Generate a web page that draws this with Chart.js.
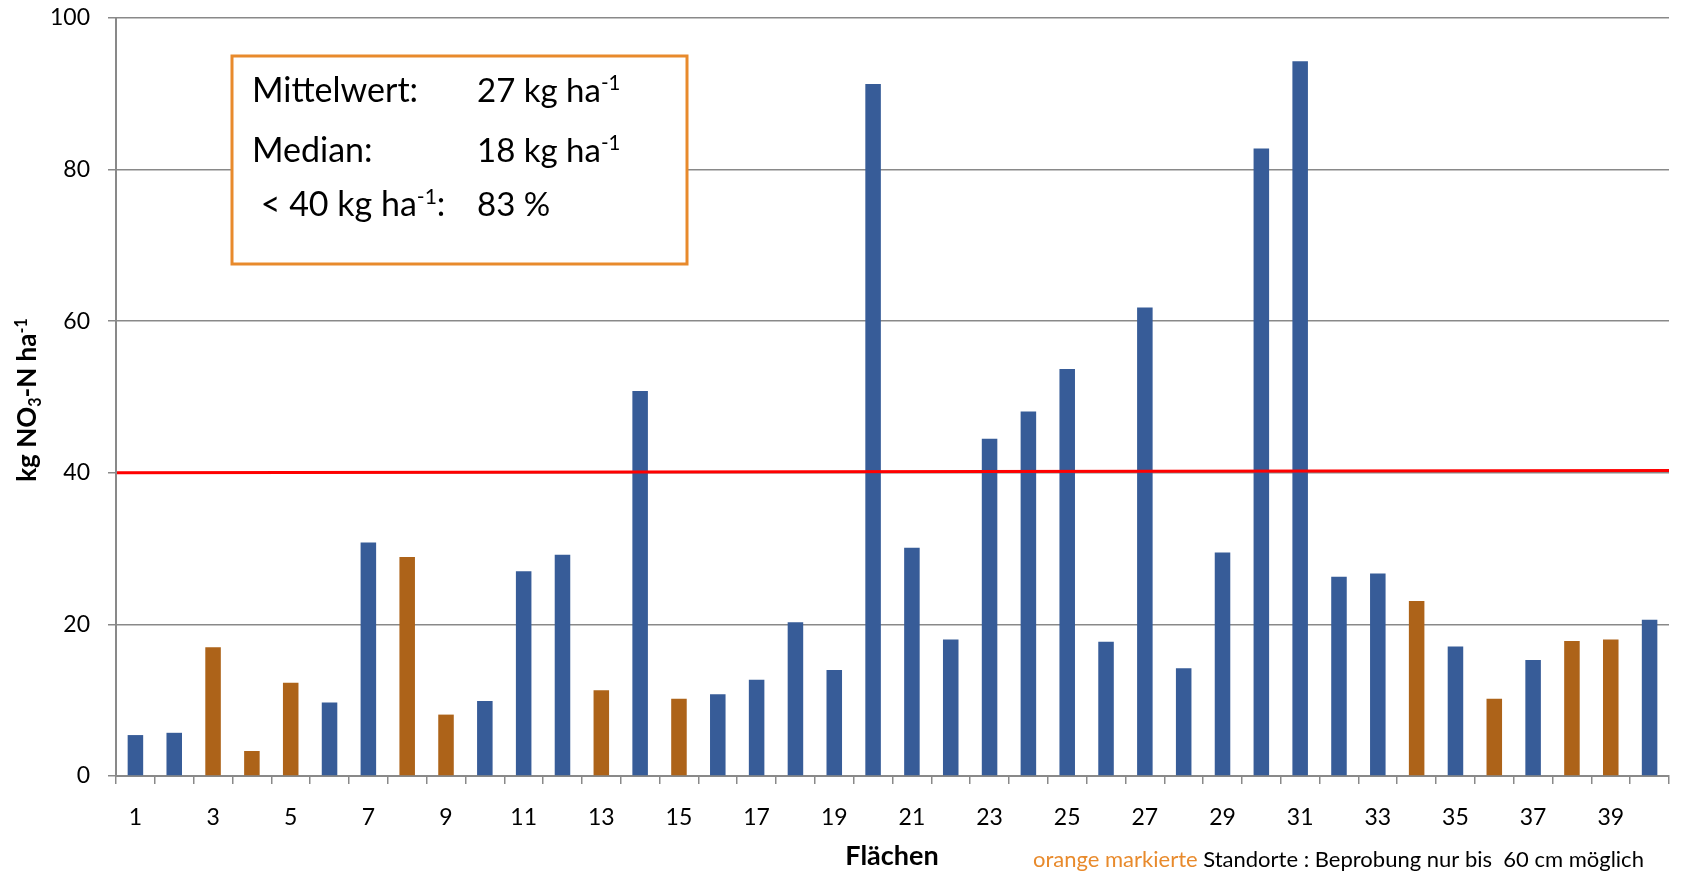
<!DOCTYPE html>
<html>
<head>
<meta charset="utf-8">
<script src="https://cdn.jsdelivr.net/npm/chart.js@4.4.1/dist/chart.umd.min.js"></script>
<style>
  html, body { margin: 0; padding: 0; background: #ffffff; }
  #wrap { width: 1685px; height: 873px; }
</style>
</head>
<body>
<div id="wrap"><canvas id="c" width="1685" height="873"></canvas></div>
<script>
// ---- data ----
const sites = ['1','2','3','4','5','6','7','8','9','10','11','12','13','14','15','16','17','18','19','20',
               '21','22','23','24','25','26','27','28','29','30','31','32','33','34','35','36','37','38','39','40'];
const nitrate = [5.4, 5.7, 17.0, 3.3, 12.3, 9.7, 30.8, 28.9, 8.1, 9.9,
                 27.0, 29.2, 11.3, 50.8, 10.2, 10.8, 12.7, 20.3, 14.0, 91.3,
                 30.1, 18.0, 44.5, 48.1, 53.7, 17.7, 61.8, 14.2, 29.5, 82.8,
                 94.3, 26.3, 26.7, 23.1, 17.1, 10.2, 15.3, 17.8, 18.0, 20.6];
const orangeSites = ['3','4','5','8','9','13','15','34','36','38','39'];
const thresholdStart = 40.0;   // value at left edge of plot
const thresholdEnd = 40.3;     // value at right edge of plot
const yTicks = [0, 20, 40, 60, 80, 100];
const statLabels = [
  [{t:'Mittelwert:'}],
  [{t:'Median:'}],
  [{t:' < 40 kg ha'}, {t:'-1', sup:true}, {t:':'}]
];
const statValues = [
  [{t:'27 kg ha'}, {t:'-1', sup:true}],
  [{t:'18 kg ha'}, {t:'-1', sup:true}],
  [{t:'83 %'}]
];
const yTitle = [{t:'kg NO'}, {t:'3', sub:true}, {t:'-N ha'}, {t:'-1', sup:true}];
const xTitle = 'Flächen';
const footnoteOrange = 'orange markierte ';
const footnoteRest = 'Standorte : Beprobung nur bis  60 cm möglich';

// ---- styles ----
const BLUE = '#375C98';
const ORANGE_BAR = '#AD6319';
const ORANGE_LINE = '#E88A2C';
const GRID = '#898989';
const FONT = 'Lato';

const barColors = sites.map(s => orangeSites.includes(s) ? ORANGE_BAR : BLUE);

function richWidth(ctx, parts, size, weight) {
  let w = 0;
  for (const p of parts) {
    const s = (p.sup || p.sub) ? size * 0.62 : size;
    ctx.font = weight + ' ' + s + 'px ' + FONT;
    w += ctx.measureText(p.t).width;
  }
  return w;
}
function drawRich(ctx, x, y, parts, size, weight, color) {
  ctx.fillStyle = color;
  ctx.textBaseline = 'alphabetic';
  ctx.textAlign = 'left';
  for (const p of parts) {
    const s = (p.sup || p.sub) ? size * 0.62 : size;
    const dy = p.sup ? -size * 0.36 : (p.sub ? size * 0.2 : 0);
    ctx.font = weight + ' ' + s + 'px ' + FONT;
    ctx.fillText(p.t, x, y + dy);
    x += ctx.measureText(p.t).width;
  }
  return x;
}

const thresholdLine = {
  id: 'thresholdLine',
  afterDatasetsDraw(chart) {
    const ctx = chart.ctx, a = chart.chartArea, y = chart.scales.y;
    ctx.save();
    ctx.strokeStyle = '#FF0000';
    ctx.lineWidth = 3;
    ctx.beginPath();
    ctx.moveTo(a.left + 1, y.getPixelForValue(thresholdStart));
    ctx.lineTo(a.right, y.getPixelForValue(thresholdEnd));
    ctx.stroke();
    ctx.restore();
  }
};

const overlay = {
  id: 'overlay',
  afterDraw(chart) {
    const ctx = chart.ctx;
    ctx.save();
    // statistics box
    ctx.fillStyle = '#ffffff';
    ctx.fillRect(232, 56, 455, 208);
    ctx.strokeStyle = ORANGE_LINE;
    ctx.lineWidth = 3;
    ctx.strokeRect(232, 56, 455, 208);
    const baselines = [102, 162, 216];
    for (let i = 0; i < statLabels.length; i++) {
      drawRich(ctx, 252, baselines[i], statLabels[i], 34, 'normal', '#000000');
      drawRich(ctx, 477, baselines[i], statValues[i], 33, 'normal', '#000000');
    }
    // y axis title
    ctx.save();
    ctx.translate(36, 400);
    ctx.rotate(-Math.PI / 2);
    const w = richWidth(ctx, yTitle, 26, 'bold');
    drawRich(ctx, -w / 2, 0, yTitle, 26, 'bold', '#000000');
    ctx.restore();
    // x axis title
    ctx.font = 'bold 27px ' + FONT;
    ctx.fillStyle = '#000000';
    ctx.textAlign = 'center';
    ctx.textBaseline = 'alphabetic';
    ctx.fillText(xTitle, 892, 865);
    // footnote
    ctx.textAlign = 'left';
    ctx.font = '22px ' + FONT;
    ctx.fillStyle = ORANGE_LINE;
    ctx.fillText(footnoteOrange, 1033, 867);
    const ow = ctx.measureText(footnoteOrange).width;
    ctx.fillStyle = '#000000';
    ctx.fillText(footnoteRest, 1033 + ow, 867);
    ctx.restore();
  }
};

new Chart(document.getElementById('c'), {
  type: 'bar',
  data: {
    labels: sites,
    datasets: [
      {
        data: nitrate,
        backgroundColor: barColors,
        borderWidth: 0,
        barPercentage: 0.4,
        categoryPercentage: 1.0
      }
    ]
  },
  options: {
    responsive: false,
    animation: false,
    devicePixelRatio: 1,
    layout: { padding: { left: 0, right: 16, top: 18, bottom: 0 } },
    plugins: { legend: { display: false }, tooltip: { enabled: false } },
    scales: {
      x: {
        type: 'category',
        offset: true,
        grid: { offset: true, drawOnChartArea: false, drawTicks: true, tickLength: 8, color: GRID, lineWidth: 1.5 },
        border: { color: GRID, width: 2 },
        ticks: {
          autoSkip: false, maxRotation: 0, minRotation: 0,
          color: '#000000', font: { family: FONT, size: 23 }, padding: 20,
          callback: function (v, i) { return i % 2 === 0 ? this.getLabelForValue(v) : ''; }
        },
        afterFit: s => { s.height = 97; s.paddingLeft = 0; s.paddingRight = 0; }
      },
      y: {
        min: yTicks[0], max: yTicks[yTicks.length - 1],
        afterBuildTicks: s => { s.ticks = yTicks.map(v => ({value: v})); },
        grid: { color: GRID, lineWidth: 1.5, tickLength: 8 },
        border: { color: GRID, width: 2 },
        ticks: { color: '#000000', font: { family: FONT, size: 23 }, padding: 18 },
        afterFit: s => { s.width = 116; s.paddingTop = 0; s.paddingBottom = 0; }
      }
    }
  },
  plugins: [thresholdLine, overlay]
});
</script>
</body>
</html>
